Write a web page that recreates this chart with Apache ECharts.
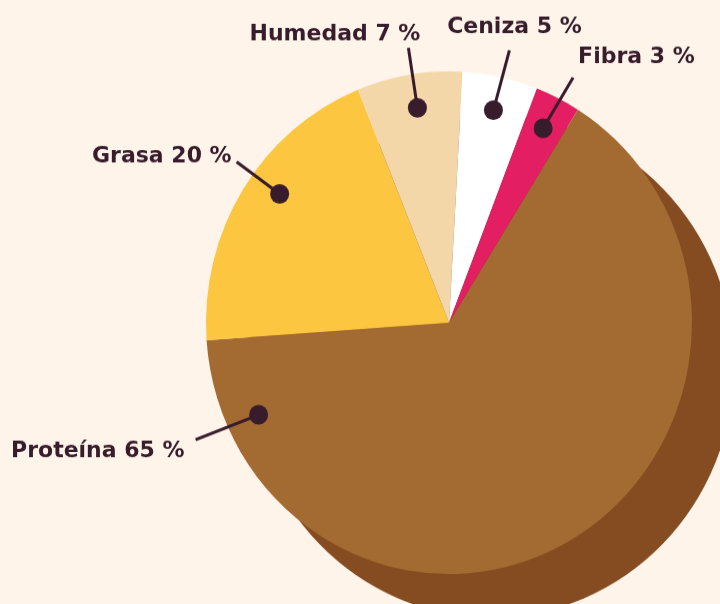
<!DOCTYPE html>
<html>
<head>
<meta charset="utf-8">
<script src="https://cdn.jsdelivr.net/npm/echarts@6/dist/echarts.min.js"></script>
<style>
  html, body { margin: 0; padding: 0; background: #fef4ea; }
  #wrap { width: 720px; height: 604px; overflow: hidden; }
  /* the reference is a bit taller than wide, so the drawing is stretched a little */
  #chart { width: 720px; height: 584px; transform: scaleY(1.03425); transform-origin: 0 0; }
</style>
</head>
<body>
<div id="wrap"><div id="chart"></div></div>
<script>
const categories = ["Proteína", "Grasa", "Humedad", "Ceniza", "Fibra"];
const values = [65, 20, 7, 5, 3];
const colors = ["#a36a31", "#fdc640", "#f3d7a9", "#ffffff", "#e31e63"];

// where the dot sits inside each slice (share of the slice, from its start)
const dotFrac = [0.91, 0.56, 0.53, 0.5, 0.5];
// guide line from dot, then text offset from the line end
const lineVec = [[-63, 24], [-43, -31], [-9, -58], [16, -58], [30, -49]];
const textOff = [[-11, 11.5], [-5, -5], [12, -13], [5, -22], [5, -19.5]];
const textAlign = ["right", "right", "right", "center", "left"];

const total = values.reduce((a, b) => a + b, 0);
const cum = [];
values.reduce((acc, v, i) => { cum[i] = acc; return acc + v; }, 0);

const center = [449, 312];
const radius = 243;
const startAngle = 58;
const ink = "#381c2c";

const chart = echarts.init(document.getElementById("chart"));

chart.setOption({
    backgroundColor: "#fef4ea",
    animation: false,
    polar: { center: center, radius: radius },
    angleAxis: { type: "value", min: 0, max: total, startAngle: startAngle, clockwise: true, show: false },
    radiusAxis: { type: "value", min: 0, max: 1, show: false },
    series: [
        {
            // shadow disc
            type: "pie",
            center: [center[0] + 42, center[1] + 42],
            radius: radius,
            silent: true,
            z: 1,
            label: { show: false },
            labelLine: { show: false },
            data: [{ value: total, itemStyle: { color: "#844c20" } }],
        },
        {
            type: "pie",
            center: center,
            radius: radius,
            startAngle: startAngle,
            clockwise: true,
            z: 2,
            label: { show: false },
            labelLine: { show: false },
            data: categories.map((c, i) => ({
                name: c,
                value: values[i],
                itemStyle: { color: colors[i] },
            })),
        },
        {
            type: "custom",
            coordinateSystem: "polar",
            z: 3,
            encode: { radius: 0, angle: 1 },
            data: values.map((v, i) => [0.865, cum[i] + dotFrac[i] * v]),
            renderItem: (params, api) => {
                const i = params.dataIndex;
                const p = api.coord([api.value(0), api.value(1)]);
                const e = [p[0] + lineVec[i][0], p[1] + lineVec[i][1]];
                return {
                    type: "group",
                    children: [
                        {
                            type: "line",
                            shape: { x1: p[0], y1: p[1], x2: e[0], y2: e[1] },
                            style: { stroke: ink, lineWidth: 3 },
                        },
                        {
                            type: "circle",
                            shape: { cx: p[0], cy: p[1], r: 9.5 },
                            style: { fill: ink },
                        },
                        {
                            type: "text",
                            x: e[0] + textOff[i][0],
                            y: e[1] + textOff[i][1],
                            style: {
                                text: categories[i] + " " + values[i] + " %",
                                fill: ink,
                                font: "bold 22px 'DejaVu Sans'",
                                align: textAlign[i],
                                verticalAlign: "middle",
                            },
                        },
                    ],
                };
            },
        },
    ],
});
</script>
</body>
</html>
